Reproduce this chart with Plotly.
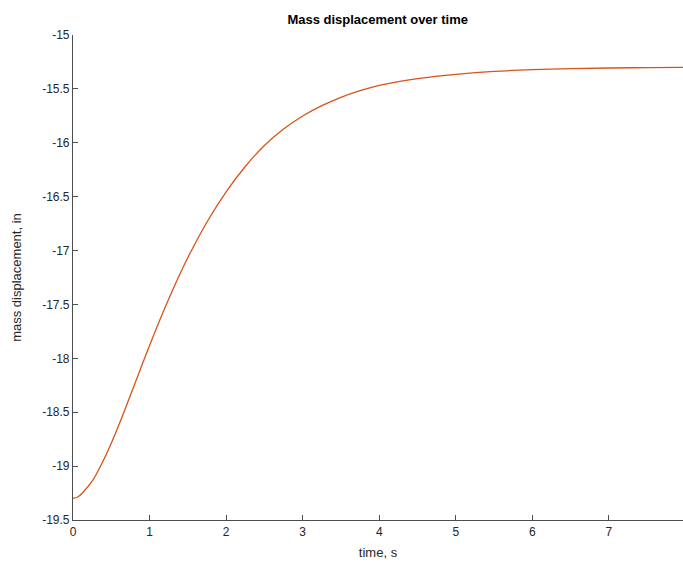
import plotly.graph_objects as go

time_s = [0, 0.0625, 0.125, 0.25, 0.375, 0.5, 0.625, 0.75, 0.875, 1.0, 1.25, 1.5, 1.75,
          2.0, 2.25, 2.5, 2.75, 3.0, 3.25, 3.5, 3.75, 4.0, 4.25, 4.5, 5.0, 5.5, 6.0,
          6.5, 7.0, 7.5, 8.0]
displacement_in = [-19.30, -19.287, -19.247, -19.14, -18.978, -18.787, -18.572, -18.342,
                   -18.11, -17.88, -17.45, -17.065, -16.735, -16.455, -16.22, -16.025,
                   -15.873, -15.752, -15.656, -15.578, -15.517, -15.468, -15.432, -15.405,
                   -15.366, -15.338, -15.322, -15.312, -15.306, -15.303, -15.30]

y_ticks = [-15, -15.5, -16, -16.5, -17, -17.5, -18, -18.5, -19, -19.5]
y_ticktext = ["-15", "-15.5", "-16", "-16.5", "-17", "-17.5", "-18", "-18.5", "-19", "-19.5"]
x_ticks = [0, 1, 2, 3, 4, 5, 6, 7, 8]

fig = go.Figure()
fig.add_trace(go.Scatter(x=time_s, y=displacement_in, mode="lines",
                         line=dict(color="#D95319", width=1.3, shape="spline",
                                   smoothing=1.0, simplify=False),
                         showlegend=False, hoverinfo="x+y"))

axis_color = "#4d4d4d"
font_family = "Liberation Sans, Arial, sans-serif"

fig.update_layout(
    width=683, height=563,
    margin=dict(l=73, r=0, t=35, b=43),
    paper_bgcolor="white", plot_bgcolor="white",
    font=dict(family=font_family, size=12, color="#262626"),
    title=dict(text="<b>Mass displacement over time</b>", x=0.553, xanchor="center",
               y=0.965, yanchor="middle", font=dict(size=13, color="#000000")),
    xaxis=dict(range=[0, 7.967], tickvals=x_ticks, ticks="inside", ticklen=5,
               tickcolor=axis_color, showline=True, linecolor=axis_color, linewidth=1.2,
               showgrid=False, zeroline=False, tickfont=dict(size=12, color="#262626"),
               title=dict(text="time, s", font=dict(size=13, color="#262626"), standoff=10)),
    yaxis=dict(range=[-19.5, -15], tickvals=y_ticks, ticktext=y_ticktext, ticks="inside",
               ticklen=5, tickcolor=axis_color, showline=True, linecolor=axis_color,
               linewidth=1.2, showgrid=False, zeroline=False,
               tickfont=dict(size=12, color="#262626"),
               title=dict(text="mass displacement, in", font=dict(size=13, color="#262626"),
                          standoff=17)),
)

fig.write_html("out.html", config={"displayModeBar": False},
               post_script="document.body.style.margin='0';document.body.style.overflow='hidden';")
